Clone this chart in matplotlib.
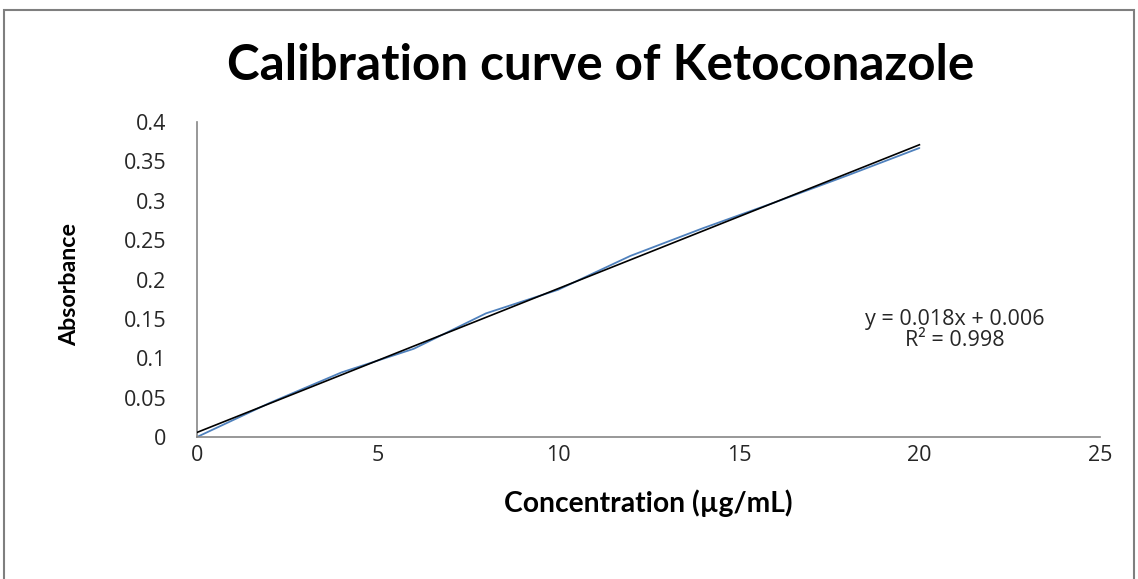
import numpy as np
import matplotlib
matplotlib.use("Agg")
import matplotlib.pyplot as plt
from matplotlib.patches import Rectangle

# Data
concentration = [0, 2, 4, 6, 8, 10, 12, 14, 16, 18, 20]
absorbance = [0.000, 0.043, 0.082, 0.112, 0.157, 0.187, 0.230, 0.265, 0.298, 0.332, 0.367]
x_ticks = [0, 5, 10, 15, 20, 25]
y_ticks = [0, 0.05, 0.1, 0.15, 0.2, 0.25, 0.3, 0.35, 0.4]
y_tick_labels = ["0", "0.05", "0.1", "0.15", "0.2", "0.25", "0.3", "0.35", "0.4"]
title = "Calibration curve of Ketoconazole"
xlabel = "Concentration (µg/mL)"
ylabel = "Absorbance"
eq_text = "y = 0.018x + 0.006\nR² = 0.998"

W, H = 1138, 579
fig = plt.figure(figsize=(W / 100, H / 100), dpi=100)
fig.patch.set_facecolor("white")

# outer chart border
fig.add_artist(Rectangle((4 / W, -2 / H), (1134 - 4) / W, (569 + 2) / H,
                         transform=fig.transFigure, fill=False,
                         edgecolor="#7f7f7f", linewidth=1.5))

ax = fig.add_axes([197 / W, 1 - 437 / H, (1100 - 197) / W, (437 - 122) / H])
ax.set_xlim(0, 25)
ax.set_ylim(0, 0.4)

x = np.array(concentration, dtype=float)
y = np.array(absorbance, dtype=float)
ax.plot(x, y, color="#4F81BD", linewidth=1.3, solid_capstyle="round", zorder=2)

# linear trendline
m, b = np.polyfit(x, y, 1)
xt = np.array([x.min(), x.max()])
ax.plot(xt, m * xt + b, color="black", linewidth=1.2, zorder=3)

for s in ["top", "right"]:
    ax.spines[s].set_visible(False)
for s in ["left", "bottom"]:
    ax.spines[s].set_color("#868686")
    ax.spines[s].set_linewidth(1.2)

tick_font = dict(fontfamily="Open Sans", fontsize=15.5, color="#262626")
ax.set_xticks(x_ticks)
ax.set_xticklabels([str(t) for t in x_ticks], **tick_font)
ax.set_yticks(y_ticks)
ax.set_yticklabels(y_tick_labels, **tick_font)
ax.tick_params(axis="both", length=0)
ax.tick_params(axis="y", pad=22)
ax.tick_params(axis="x", pad=6)

renderer = fig.canvas.get_renderer()


def fit_text(t, target_px):
    bb = t.get_window_extent(renderer=renderer)
    w = bb.width if t.get_rotation() == 0 else bb.height
    t.set_fontsize(t.get_fontsize() * target_px / w)


t_title = fig.text(601 / W, 1 - 65 / H, title, ha="center", va="center",
                   fontfamily="Lato", fontweight="bold", fontsize=30)
fit_text(t_title, 747)
t_x = fig.text(648 / W, 1 - 503 / H, xlabel, ha="center", va="center",
               fontfamily="Lato", fontweight="bold", fontsize=14)
fit_text(t_x, 290)
t_y = fig.text(70 / W, 1 - 284 / H, ylabel, ha="center", va="center", rotation=90,
               fontfamily="Lato", fontweight="bold", fontsize=14)
fit_text(t_y, 124)

fig.text(955 / W, 1 - 330 / H, eq_text, ha="center", va="center",
         fontfamily="Open Sans", fontsize=15.5, color="#262626", linespacing=1.05)

fig.savefig("out.png", dpi=100, facecolor="white")
